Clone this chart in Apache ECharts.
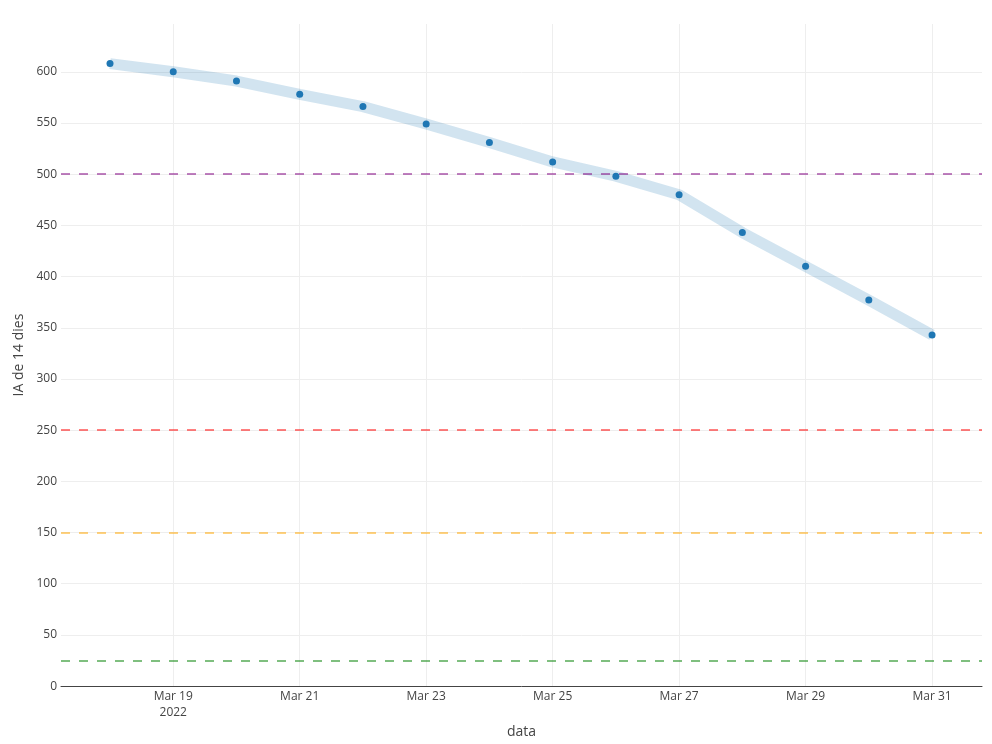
<!DOCTYPE html>
<html>
<head>
<meta charset="utf-8">
<script src="https://cdn.jsdelivr.net/npm/echarts@6/dist/echarts.min.js"></script>
<style>
  html, body { margin: 0; padding: 0; background: #fff; }
  #chart { width: 992px; height: 744px; }
</style>
</head>
<body>
<div id="chart"></div>
<script>
let chartDom = document.getElementById('chart');
let myChart = echarts.init(chartDom);

// dies de mar 2022
let dates = ['2022-03-18', '2022-03-19', '2022-03-20', '2022-03-21', '2022-03-22', '2022-03-23', '2022-03-24',
             '2022-03-25', '2022-03-26', '2022-03-27', '2022-03-28', '2022-03-29', '2022-03-30', '2022-03-31']
let ia14 = [608, 600, 591, 578, 566, 549, 531, 512, 498, 480, 443, 410, 377, 343]

// llindars de risc
let thresholds = [500, 250, 150, 25]
let thresholdColors = ['rgba(128,0,128,0.5)', 'rgba(255,0,0,0.5)', 'rgba(255,165,0,0.5)', 'rgba(0,128,0,0.5)']

let xTicks = ['2022-03-19', '2022-03-21', '2022-03-23', '2022-03-25', '2022-03-27', '2022-03-29', '2022-03-31']
let yTicks = [0, 50, 100, 150, 200, 250, 300, 350, 400, 450, 500, 550, 600]

const DAY = 86400000;
const months = ['Jan', 'Feb', 'Mar', 'Apr', 'May', 'Jun', 'Jul', 'Aug', 'Sep', 'Oct', 'Nov', 'Dec'];

function toTs(s) {
    let p = s.split('-');
    return Date.UTC(+p[0], +p[1] - 1, +p[2]);
}

let points = dates.map((d, i) => [toTs(d), ia14[i]]);
let xTickTs = xTicks.map(toTs);

let firstTs = toTs(dates[0]);
let lastTs = toTs(dates[dates.length - 1]);

let option = {
    animation: false,
    textStyle: { fontFamily: '"Open Sans", sans-serif', color: '#444' },
    grid: { left: 61, width: 921, top: 24, height: 664, containLabel: false },
    xAxis: {
        type: 'value',
        min: firstTs - 0.775 * DAY,
        max: lastTs + 0.79 * DAY,
        name: 'data',
        nameLocation: 'middle',
        nameGap: 38,
        nameTextStyle: { fontSize: 14, color: '#444', fontFamily: '"Open Sans", sans-serif' },
        axisLine: { show: true, onZero: false, lineStyle: { color: '#444', width: 1 } },
        axisTick: { show: false, customValues: xTickTs },
        axisLabel: {
            customValues: xTickTs,
            fontSize: 12,
            color: '#444',
            margin: 2,
            lineHeight: 16,
            formatter: function (v) {
                let d = new Date(v);
                let s = months[d.getUTCMonth()] + ' ' + d.getUTCDate();
                if (v === xTickTs[0]) s += '\n' + d.getUTCFullYear();
                return s;
            }
        },
        splitLine: { show: true, lineStyle: { color: '#eee', width: 1 } }
    },
    yAxis: {
        type: 'value',
        min: 0,
        max: 646.7,
        name: 'IA de 14 dies',
        nameLocation: 'middle',
        nameGap: 35,
        nameRotate: 90,
        nameTextStyle: { fontSize: 14, color: '#444', fontFamily: '"Open Sans", sans-serif' },
        axisLine: { show: false },
        axisTick: { show: false, customValues: yTicks },
        axisLabel: { customValues: yTicks, fontSize: 12, color: '#444', margin: 4 },
        splitLine: { show: true, lineStyle: { color: '#eee', width: 1 } }
    },
    series: [
        {
            name: 'banda',
            type: 'line',
            data: points,
            showSymbol: false,
            silent: true,
            lineStyle: { color: 'rgba(31,119,180,0.2)', width: 11 },
            z: 1
        },
        {
            name: 'IA 14',
            type: 'scatter',
            data: points,
            symbolSize: 7,
            itemStyle: { color: '#1f77b4', opacity: 1 },
            z: 5,
            markLine: {
                silent: true,
                symbol: 'none',
                label: { show: false },
                data: thresholds.map((t, i) => ({
                    yAxis: t,
                    lineStyle: { color: thresholdColors[i], type: [9, 9], width: 2 }
                }))
            }
        }
    ]
};

option && myChart.setOption(option);
</script>
</body>
</html>
